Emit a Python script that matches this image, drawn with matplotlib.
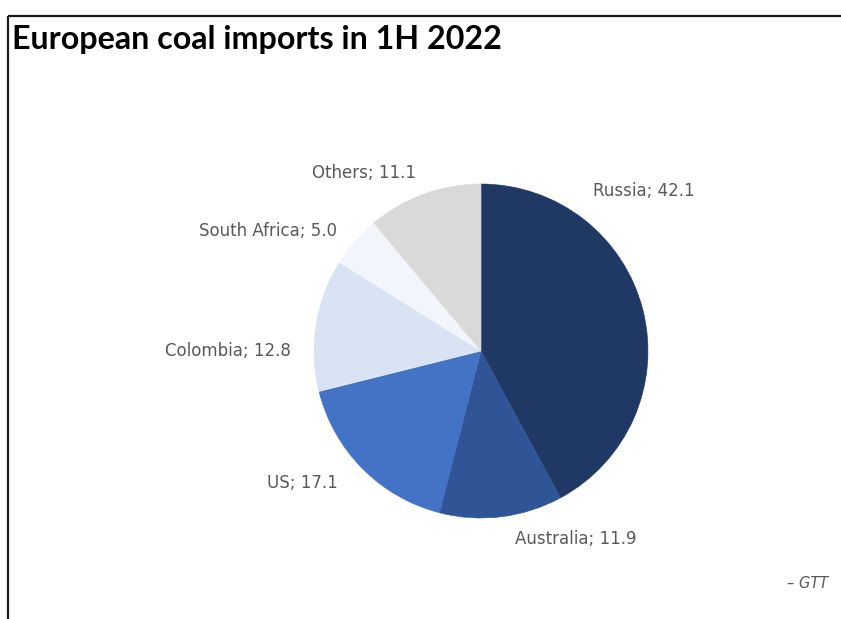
import matplotlib
matplotlib.use("Agg")
import matplotlib.pyplot as plt
from matplotlib import font_manager

# ---- data ----
countries = ["Russia", "Australia", "US", "Colombia", "South Africa", "Others"]
shares = [42.1, 11.9, 17.1, 12.8, 5.0, 11.1]
colors = ["#203864", "#2F5597", "#4472C4", "#DAE3F3", "#F2F5FC", "#D9D9D9"]
title = "European coal imports in 1H 2022"
source = "– GTT"

W, H = 841, 619
fig = plt.figure(figsize=(W / 100, H / 100), dpi=100)
ax = fig.add_axes([0, 0, 1, 1])

def py(y):
    return H - y

# pie
cx, cy, r = 481, 351, 167
ax.pie(shares, colors=colors, startangle=90, counterclock=False,
       center=(cx, py(cy)), radius=r,
       wedgeprops=dict(linewidth=0.4, edgecolor=None))
for w, c in zip(ax.patches, colors):
    w.set_edgecolor(c)

ax.set_xlim(0, W)
ax.set_ylim(0, H)
ax.set_aspect("auto")
ax.axis("off")

# label positions (left edge x, center y) in pixels
label_pos = {
    "Russia": (593, 191),
    "Australia": (515, 539),
    "US": (267, 483),
    "Colombia": (165, 351),
    "South Africa": (199, 231),
    "Others": (312, 173),
}
for name, val in zip(countries, shares):
    x, y = label_pos[name]
    ax.text(x, py(y), f"{name}; {val:.1f}", ha="left", va="center",
            fontsize=12, color="#595959", family="DejaVu Sans")

# title, fit to width
names = {f.name for f in font_manager.fontManager.ttflist}
tfam = "Lato" if "Lato" in names else "DejaVu Sans"
t = ax.text(12, py(49.5), title, ha="left", va="baseline", fontsize=24,
            fontweight="bold", family=tfam, color="#000000")
fig.canvas.draw()
bb = t.get_window_extent(renderer=fig.canvas.get_renderer())
t.set_fontsize(24 * 490 / bb.width)

# source
ax.text(828, py(583), source, ha="right", va="center", fontsize=10.5,
        style="italic", color="#595959", family="DejaVu Sans")

# frame lines (top and left)
ax.plot([8, W], [py(16), py(16)], color="#1a1a1a", lw=1.6, solid_capstyle="butt")
ax.plot([8.5, 8.5], [py(16), 0], color="#1a1a1a", lw=1.6, solid_capstyle="butt")

fig.savefig("out.png", dpi=100)
